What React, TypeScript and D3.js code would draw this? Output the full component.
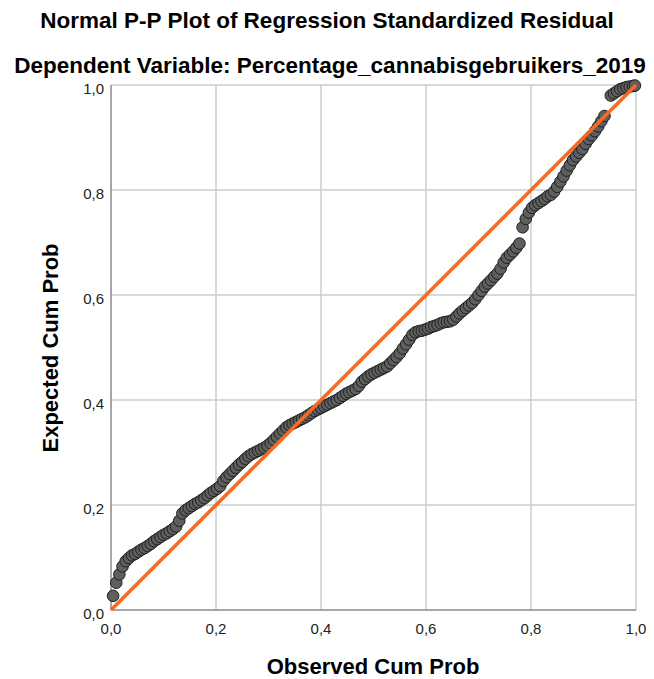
import React from "react";
import * as d3 from "d3";

const TITLE_1 = "Normal P-P Plot of Regression Standardized Residual";
const TITLE_2 = "Dependent Variable: Percentage_cannabisgebruikers_2019";
const X_TITLE = "Observed Cum Prob";
const Y_TITLE = "Expected Cum Prob";

const TICKS = [0, 0.2, 0.4, 0.6, 0.8, 1.0];
const TICK_LABELS = ["0,0", "0,2", "0,4", "0,6", "0,8", "1,0"];

// observed cumulative probability
const observed = [
  0.004, 0.010, 0.016, 0.022, 0.028, 0.034, 0.040, 0.046, 0.052, 0.058,
  0.064, 0.070, 0.076, 0.082, 0.088, 0.094, 0.100, 0.106, 0.112, 0.118,
  0.124, 0.130, 0.136, 0.142, 0.148, 0.154, 0.160, 0.166, 0.172, 0.178,
  0.184, 0.190, 0.196, 0.202, 0.208, 0.214, 0.220, 0.226, 0.232, 0.238,
  0.244, 0.250, 0.256, 0.262, 0.268, 0.274, 0.280, 0.286, 0.292, 0.298,
  0.304, 0.310, 0.316, 0.322, 0.328, 0.334, 0.340, 0.346, 0.352, 0.358,
  0.364, 0.370, 0.376, 0.382, 0.388, 0.394, 0.400, 0.406, 0.412, 0.418,
  0.424, 0.430, 0.436, 0.442, 0.448, 0.454, 0.460, 0.466, 0.472, 0.478,
  0.484, 0.490, 0.496, 0.502, 0.508, 0.514, 0.520, 0.526, 0.532, 0.538,
  0.544, 0.550, 0.556, 0.562, 0.568, 0.574, 0.580, 0.586, 0.592, 0.598,
  0.604, 0.610, 0.616, 0.622, 0.628, 0.634, 0.640, 0.646, 0.652, 0.658,
  0.664, 0.670, 0.676, 0.682, 0.688, 0.694, 0.700, 0.706, 0.712, 0.718,
  0.724, 0.730, 0.736, 0.742, 0.748, 0.754, 0.760, 0.766, 0.772, 0.778,
  0.784, 0.790, 0.796, 0.802, 0.808, 0.814, 0.820, 0.826, 0.832, 0.838,
  0.844, 0.850, 0.856, 0.862, 0.868, 0.874, 0.880, 0.886, 0.892, 0.898,
  0.904, 0.910, 0.916, 0.922, 0.928, 0.934, 0.940, 0.952, 0.958, 0.964,
  0.970, 0.976, 0.982, 0.988, 0.994, 0.998,
];

// expected cumulative probability
const expected = [
  0.027, 0.052, 0.068, 0.083, 0.093, 0.099, 0.104, 0.107, 0.111, 0.115,
  0.118, 0.122, 0.126, 0.131, 0.135, 0.139, 0.143, 0.146, 0.150, 0.154,
  0.159, 0.170, 0.184, 0.190, 0.194, 0.198, 0.202, 0.205, 0.209, 0.213,
  0.218, 0.223, 0.227, 0.231, 0.236, 0.246, 0.253, 0.259, 0.265, 0.271,
  0.277, 0.282, 0.288, 0.293, 0.297, 0.300, 0.303, 0.306, 0.309, 0.313,
  0.318, 0.324, 0.330, 0.336, 0.342, 0.348, 0.352, 0.355, 0.358, 0.361,
  0.364, 0.367, 0.371, 0.375, 0.379, 0.382, 0.385, 0.388, 0.391, 0.394,
  0.397, 0.400, 0.404, 0.408, 0.412, 0.415, 0.418, 0.421, 0.427, 0.435,
  0.440, 0.445, 0.449, 0.452, 0.455, 0.458, 0.461, 0.464, 0.470, 0.476,
  0.482, 0.489, 0.498, 0.506, 0.515, 0.524, 0.529, 0.531, 0.532, 0.534,
  0.536, 0.539, 0.541, 0.543, 0.546, 0.548, 0.549, 0.550, 0.553, 0.559,
  0.565, 0.570, 0.575, 0.580, 0.585, 0.592, 0.600, 0.608, 0.616, 0.622,
  0.628, 0.635, 0.641, 0.650, 0.662, 0.671, 0.677, 0.683, 0.690, 0.698,
  0.729, 0.745, 0.757, 0.766, 0.771, 0.775, 0.779, 0.783, 0.788, 0.791,
  0.797, 0.806, 0.816, 0.826, 0.837, 0.847, 0.857, 0.864, 0.871, 0.878,
  0.888, 0.897, 0.904, 0.912, 0.921, 0.931, 0.941, 0.980, 0.984, 0.988,
  0.992, 0.994, 0.996, 0.997, 0.998, 0.999,
];

const REF_LINE = [0, 1];

const W = 654;
const H = 679;
const PLOT = { left: 111, right: 636, top: 85, bottom: 610 };

export default function App() {
  const x = d3.scaleLinear().domain([0, 1]).range([PLOT.left, PLOT.right]);
  const y = d3.scaleLinear().domain([0, 1]).range([PLOT.bottom, PLOT.top]);
  const font = "'Liberation Sans', Arial, sans-serif";
  const pts = observed.map((o, i) => [o, expected[i]] as [number, number]);
  const line = d3
    .line<number>()
    .x((d) => x(d))
    .y((d) => y(d));

  return (
    <div style={{ position: "absolute", left: 0, top: 0 }}>
      <svg width={W} height={H} style={{ display: "block", background: "#fff" }}>
        <rect x={0} y={0} width={W} height={H} fill="#fff" />
        <text x={327} y={28} textAnchor="middle" fontFamily={font} fontWeight="bold" fontSize={22.5} fill="#000">
          {TITLE_1}
        </text>
        <text x={330} y={73} textAnchor="middle" fontFamily={font} fontWeight="bold" fontSize={22.5} fill="#000">
          {TITLE_2}
        </text>

        {/* grid */}
        {TICKS.filter((t) => t > 0).map((t) => (
          <line key={"gx" + t} x1={x(t)} x2={x(t)} y1={y(0)} y2={y(1)} stroke="#cccccc" strokeWidth={1.5} />
        ))}
        {TICKS.filter((t) => t > 0).map((t) => (
          <line key={"gy" + t} x1={x(0)} x2={x(1)} y1={y(t)} y2={y(t)} stroke="#cccccc" strokeWidth={1.5} />
        ))}
        {/* axes */}
        <line x1={x(0)} x2={x(0)} y1={y(0)} y2={y(1)} stroke="#8a8a8a" strokeWidth={1.5} />
        <line x1={x(0)} x2={x(1)} y1={y(0)} y2={y(0)} stroke="#8a8a8a" strokeWidth={1.5} />

        {/* tick labels */}
        {TICKS.map((t, i) => (
          <text key={"tx" + t} x={x(t)} y={PLOT.bottom + 24} textAnchor="middle" fontFamily={font} fontSize={15} fill="#222">
            {TICK_LABELS[i]}
          </text>
        ))}
        {TICKS.map((t, i) => (
          <text key={"ty" + t} x={PLOT.left - 7} y={y(t) + 9} textAnchor="end" fontFamily={font} fontSize={15} fill="#222">
            {TICK_LABELS[i]}
          </text>
        ))}

        {/* points */}
        {pts.map((p, i) => (
          <circle key={i} cx={x(p[0])} cy={y(p[1])} r={5.8} fill="#5f5f5f" stroke="#1e1e1e" strokeWidth={1} />
        ))}

        {/* reference line */}
        <path d={line(REF_LINE) || ""} stroke="#f26a2c" strokeWidth={3.5} fill="none" />

        {/* axis titles */}
        <text x={373} y={674} textAnchor="middle" fontFamily={font} fontWeight="bold" fontSize={22} fill="#000">
          {X_TITLE}
        </text>
        <text
          transform={`translate(58, ${348}) rotate(-90)`}
          textAnchor="middle"
          fontFamily={font}
          fontWeight="bold"
          fontSize={22}
          fill="#000"
        >
          {Y_TITLE}
        </text>
      </svg>
    </div>
  );
}
